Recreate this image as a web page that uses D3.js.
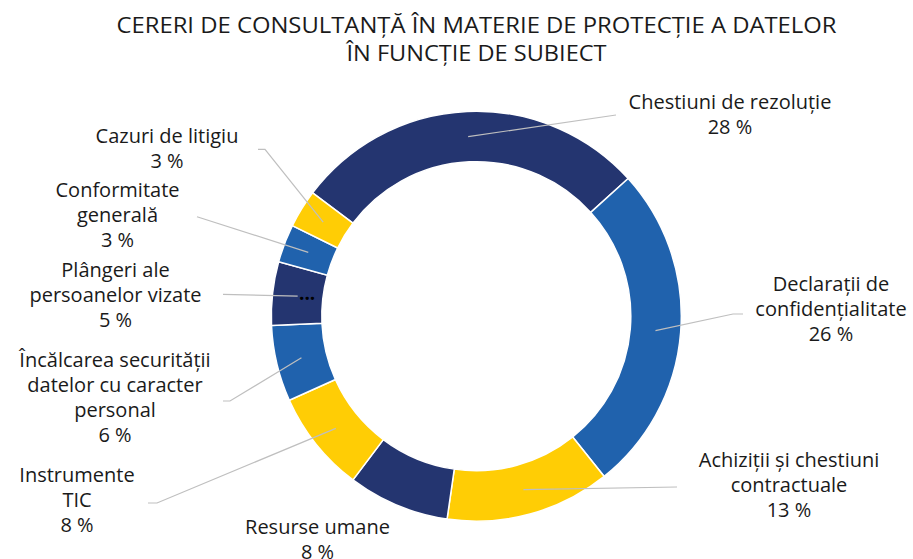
<!DOCTYPE html>
<html lang="ro">
<head>
<meta charset="utf-8">
<script src="https://cdn.jsdelivr.net/npm/d3@7"></script>
<style>
  html, body { margin: 0; padding: 0; background: #ffffff; }
  svg { display: block; font-family: "Open Sans", "Noto Sans", sans-serif; }
</style>
</head>
<body>
<svg id="chart" width="913" height="559"></svg>
<script>
// Subiectele cererilor de consultanță (ordinea felierilor, în sensul acelor de ceasornic)
const categories = [
  "Chestiuni de rezoluție",
  "Declarații de confidențialitate",
  "Achiziții și chestiuni contractuale",
  "Resurse umane",
  "Instrumente TIC",
  "Încălcarea securității datelor cu caracter personal",
  "Plângeri ale persoanelor vizate",
  "Conformitate generală",
  "Cazuri de litigiu"
];
// Ponderi, în procente
const values = [28, 26, 13, 8, 8, 6, 5, 3, 3];
// Etichetele afișate, împărțite pe rânduri
const labelLines = [
  ["Chestiuni de rezoluție"],
  ["Declarații de", "confidențialitate"],
  ["Achiziții și chestiuni", "contractuale"],
  ["Resurse umane"],
  ["Instrumente", "TIC"],
  ["Încălcarea securității", "datelor cu caracter", "personal"],
  ["Plângeri ale", "persoanelor vizate"],
  ["Conformitate", "generală"],
  ["Cazuri de litigiu"]
];
const titleLines = [
  "CERERI DE CONSULTANȚĂ ÎN MATERIE DE PROTECȚIE A DATELOR",
  "ÎN FUNCȚIE DE SUBIECT"
];

// Paleta: bleumarin, albastru, galben
const navy = "#243570", blue = "#2062ad", yellow = "#ffcd05";
const sliceColors = [navy, blue, yellow, navy, yellow, blue, navy, blue, yellow];

// Așezarea etichetelor: centru pe x, prima linie de bază, capătul liniei de legătură
const labelLayout = [
  { x: 730, y: 109, end: [[616, 115]] },
  { x: 831, y: 290.5, end: [[733, 314], [743, 314]] },
  { x: 789, y: 467, end: [[677, 487]] },
  { x: 317.5, y: 533.5, end: null },
  { x: 77, y: 482, end: [[157, 503], [148, 503]] },
  { x: 115, y: 367, end: [[230, 401], [223, 401]] },
  { x: 115.5, y: 277, end: [[223, 294.3]] },
  { x: 117.5, y: 197, end: [[197, 216.7]] },
  { x: 167, y: 143, end: [[265, 149.3], [258, 149.3]] }
];
const lineStep = 25;

const svg = d3.select("#chart");
const cx = 476.3, cy = 316.2;
const outerR = 205, innerR = 154.5;

// Titlul
const title = svg.append("g").attr("class", "title");
const titleWidths = [720, 260];
titleLines.forEach((t, i) => {
  title.append("text")
    .attr("x", 476.5)
    .attr("y", 33 + i * 28)
    .attr("text-anchor", "middle")
    .attr("font-size", 22)
    .attr("fill", "#1a1a1a")
    .attr("textLength", titleWidths[i])
    .attr("lengthAdjust", "spacingAndGlyphs")
    .text(t);
});

// Inelul
const startAngle = -53 * Math.PI / 180;
const pie = d3.pie().sort(null).value(d => d)
  .startAngle(startAngle).endAngle(startAngle + 2 * Math.PI);
const arcs = pie(values);
const arc = d3.arc().innerRadius(innerR).outerRadius(outerR);

const ring = svg.append("g").attr("transform", `translate(${cx},${cy})`);
ring.selectAll("path.slice")
  .data(arcs)
  .join("path")
  .attr("class", "slice")
  .attr("d", arc)
  .attr("fill", (d, i) => sliceColors[i])
  .attr("stroke", "#ffffff")
  .attr("stroke-width", 1.5);

// Liniile de legătură, din centrul fiecărei felii spre etichetă
const leaders = svg.append("g").attr("class", "leaders");
arcs.forEach((d, i) => {
  const lay = labelLayout[i];
  if (!lay.end) return;
  const [ax, ay] = arc.centroid(d);
  const pts = [[cx + ax, cy + ay]].concat(lay.end);
  leaders.append("path")
    .attr("d", d3.line()(pts))
    .attr("fill", "none")
    .attr("stroke", "#bfbfbf")
    .attr("stroke-width", 1.2);
});

// Punctele de suspensie din felia „Plângeri”
{
  const [ax, ay] = arc.centroid(arcs[6]);
  svg.append("text")
    .attr("x", cx + ax + 9.5)
    .attr("y", cy + ay + 4)
    .attr("text-anchor", "middle")
    .attr("font-size", 19)
    .attr("font-weight", 700)
    .attr("fill", "#000000")
    .text("...");
}

// Etichetele: numele subiectului și procentul
const labels = svg.append("g").attr("class", "labels");
arcs.forEach((d, i) => {
  const lay = labelLayout[i];
  const lines = labelLines[i].concat([`${values[i]} %`]);
  const t = labels.append("text")
    .attr("text-anchor", "middle")
    .attr("font-size", 20)
    .attr("fill", "#1a1a1a");
  lines.forEach((ln, k) => {
    t.append("tspan")
      .attr("x", lay.x)
      .attr("y", lay.y + k * lineStep)
      .text(ln);
  });
});
</script>
</body>
</html>
